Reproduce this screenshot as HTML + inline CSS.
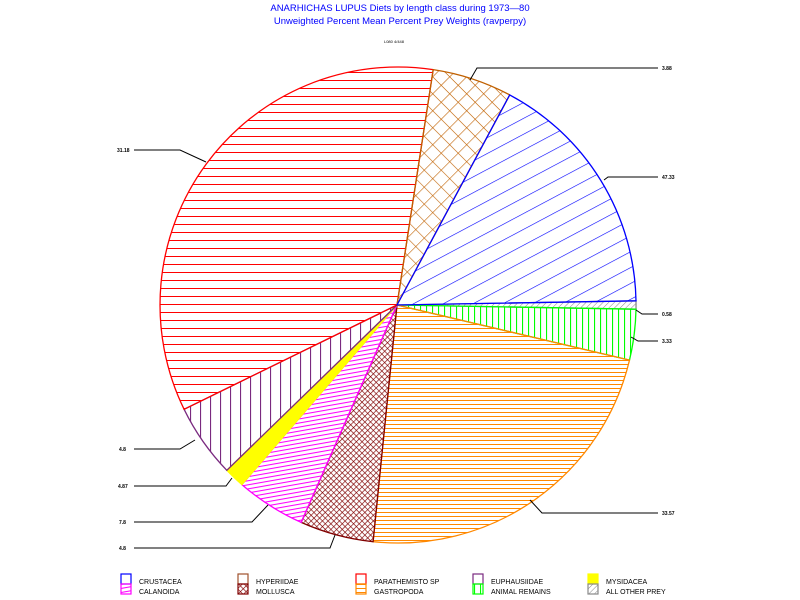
<!DOCTYPE html>
<html><head><meta charset="utf-8"><style>
body{margin:0;background:#fff}
svg{display:block}
text{font-family:"Liberation Sans",sans-serif}
</style></head><body>
<svg width="800" height="600" viewBox="0 0 800 600" xmlns="http://www.w3.org/2000/svg">
<defs>
<pattern id="pBlue" patternUnits="userSpaceOnUse" width="14" height="14" patternTransform="rotate(-28)"><line x1="0" y1="0" x2="14" y2="0" stroke="#00f" stroke-width="1.2"/></pattern>
<pattern id="pHyp" patternUnits="userSpaceOnUse" width="12" height="12" patternTransform="rotate(45)"><line x1="0" y1="0" x2="12" y2="0" stroke="#c06000" stroke-width="1.2"/><line x1="0" y1="0" x2="0" y2="12" stroke="#c06000" stroke-width="1.2"/></pattern>
<pattern id="pRed" patternUnits="userSpaceOnUse" width="8" height="8"><line x1="0" y1="0.5" x2="8" y2="0.5" stroke="#f00" stroke-width="1"/></pattern>
<pattern id="pPur" patternUnits="userSpaceOnUse" width="10" height="10"><line x1="0.5" y1="0" x2="0.5" y2="10" stroke="#7a2a80" stroke-width="1.2"/></pattern>
<pattern id="pGreen" patternUnits="userSpaceOnUse" width="6" height="6"><line x1="0.5" y1="0" x2="0.5" y2="6" stroke="#0f0" stroke-width="1.2"/></pattern>
<pattern id="pOr" patternUnits="userSpaceOnUse" width="4" height="4"><line x1="0" y1="0.5" x2="4" y2="0.5" stroke="#f80" stroke-width="1"/></pattern>
<pattern id="pMol" patternUnits="userSpaceOnUse" width="4" height="4" patternTransform="rotate(45)"><line x1="0" y1="0" x2="4" y2="0" stroke="#800000" stroke-width="1.3"/><line x1="0" y1="0" x2="0" y2="4" stroke="#800000" stroke-width="1.3"/></pattern>
<pattern id="pMag" patternUnits="userSpaceOnUse" width="4" height="4" patternTransform="rotate(-10)"><line x1="0" y1="0.5" x2="4" y2="0.5" stroke="#f0f" stroke-width="1.1"/></pattern>
<pattern id="pGray" patternUnits="userSpaceOnUse" width="4" height="4" patternTransform="rotate(45)"><line x1="0" y1="0" x2="0" y2="4" stroke="#888" stroke-width="1"/></pattern>
</defs>
<text x="400" y="11" text-anchor="middle" font-size="9.5" fill="#00f">ANARHICHAS LUPUS Diets by length class during 1973&#8212;80</text>
<text x="400" y="24" text-anchor="middle" font-size="9.5" fill="#00f">Unweighted Percent Mean Percent Prey  Weights (ravperpy)</text>
<text x="394" y="43" text-anchor="middle" font-size="4" fill="#000">L080 4/448</text>
<g stroke-width="1.3">
<path d="M397,305 L636,300.8 A238,238 0 0 1 636,309.2Z" fill="url(#pGray)" stroke="#888"/>
<path d="M397,305 L636,309.2 A238,238 0 0 1 629.5,360.1Z" fill="url(#pGreen)" stroke="#0f0"/>
<path d="M397,305 L629.5,360.1 A238,238 0 0 1 373.1,541.7Z" fill="url(#pOr)" stroke="#f80"/>
<path d="M397,305 L373.1,541.7 A238,238 0 0 1 301.2,522.4Z" fill="url(#pMol)" stroke="#800000"/>
<path d="M397,305 L301.2,522.4 A238,238 0 0 1 241.9,484.6Z" fill="url(#pMag)" stroke="#f0f"/>
<path d="M397,305 L241.9,484.6 A238,238 0 0 1 226.8,470.3Z" fill="#ff0" stroke="#ff0"/>
<path d="M397,305 L226.8,470.3 A238,238 0 0 1 184.1,409.3Z" fill="url(#pPur)" stroke="#7a2a80"/>
<path d="M397,305 L184.1,409.3 A238,238 0 0 1 433.2,69.6Z" fill="url(#pRed)" stroke="#f00"/>
<path d="M397,305 L433.2,69.6 A238,238 0 0 1 509.7,94.9Z" fill="url(#pHyp)" stroke="#c06000"/>
<path d="M397,305 L509.7,94.9 A238,238 0 0 1 636,300.8Z" fill="url(#pBlue)" stroke="#00f"/>
</g>
<g stroke="#000" stroke-width="1" fill="none">
<polyline points="470,80 477,68 658,68"/>
<polyline points="604,180 608,177 658,177"/>
<polyline points="636,310 642,314 658,314"/>
<polyline points="631,337 638,341 658,341"/>
<polyline points="530,500 542,513 658,513"/>
<polyline points="206,162 180,150 134,150"/>
<polyline points="195,440 180,449 134,449"/>
<polyline points="232,478 226,486 134,486"/>
<polyline points="268,505 252,522 134,522"/>
<polyline points="335,535 330,548 134,548"/>
</g>
<g font-size="5" fill="#000" font-weight="bold">
<text x="662" y="70">3.88</text>
<text x="662" y="179">47.33</text>
<text x="662" y="316">0.58</text>
<text x="662" y="343">3.33</text>
<text x="662" y="515">33.57</text>
<text x="117" y="152">31.18</text>
<text x="119" y="451">4.8</text>
<text x="118" y="488">4.87</text>
<text x="119" y="524">7.8</text>
<text x="119" y="550">4.8</text>
</g>
<g stroke-width="1.2">
<rect x="121" y="574" width="10" height="10" fill="#fff" stroke="#00f"/><rect x="121" y="584" width="10" height="10" fill="url(#pMag)" stroke="#f0f"/>
<rect x="238" y="574" width="10" height="10" fill="#fff" stroke="#a0522d"/><rect x="238" y="584" width="10" height="10" fill="url(#pMol)" stroke="#800000"/>
<rect x="356" y="574" width="10" height="10" fill="#fff" stroke="#f00"/><rect x="356" y="584" width="10" height="10" fill="url(#pOr)" stroke="#f80"/>
<rect x="473" y="574" width="10" height="10" fill="#fff" stroke="#7a2a80"/><rect x="473" y="584" width="10" height="10" fill="url(#pGreen)" stroke="#0f0"/>
<rect x="588" y="574" width="10" height="10" fill="#ff0" stroke="#ff0"/><rect x="588" y="584" width="10" height="10" fill="url(#pGray)" stroke="#888"/>
</g>
<g font-size="7" fill="#000">
<text x="139" y="584">CRUSTACEA</text><text x="139" y="594">CALANOIDA</text>
<text x="256" y="584">HYPERIIDAE</text><text x="256" y="594">MOLLUSCA</text>
<text x="374" y="584">PARATHEMISTO SP</text><text x="374" y="594">GASTROPODA</text>
<text x="491" y="584">EUPHAUSIIDAE</text><text x="491" y="594">ANIMAL REMAINS</text>
<text x="606" y="584">MYSIDACEA</text><text x="606" y="594">ALL OTHER PREY</text>
</g>
</svg>
</body></html>
